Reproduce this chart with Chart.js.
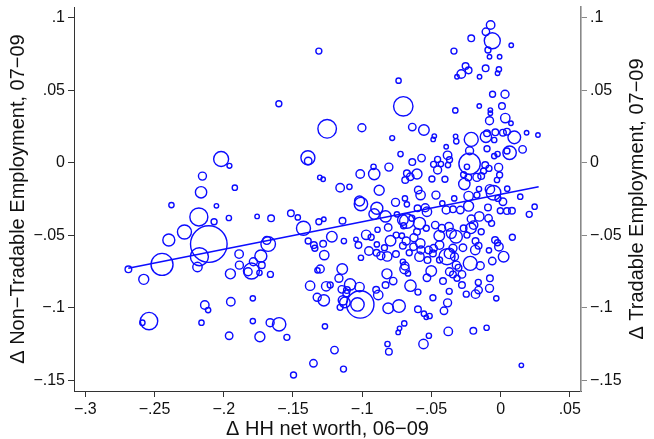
<!DOCTYPE html>
<html><head><meta charset="utf-8">
<script src="https://cdn.jsdelivr.net/npm/chart.js@4/dist/chart.umd.min.js"></script>
<style>html,body{margin:0;padding:0;background:#fff}canvas{display:block}</style>
</head><body>
<canvas id="c" width="654" height="439"></canvas>
<script>
const xTicks = [-0.3, -0.25, -0.2, -0.15, -0.1, -0.05, 0, 0.05];
const yTicks = [-0.15, -0.1, -0.05, 0, 0.05, 0.1];
const xTitle = 'Δ HH net worth, 06−09';
const yLeftTitle = 'Δ Non−Tradable Employment, 07−09';
const yRightTitle = 'Δ Tradable Employment, 07−09';

// Δ HH net worth (x)
const netWorth = [
-0.2019,-0.1959,-0.2154,-0.1920,-0.2164,-0.1313,-0.0737,-0.1602,-0.0703,-0.1253,
-0.1002,-0.0638,-0.0783,-0.1392,-0.1390,-0.0723,-0.0638,-0.0918,-0.0807,-0.1014,
-0.0913,-0.0677,-0.0689,-0.0653,-0.1306,-0.1282,-0.1159,-0.1092,-0.0877,
-0.0072,-0.0106,-0.0060,-0.0212,0.0077,-0.0337,-0.0091,-0.0080,-0.0007,-0.0253,
-0.0231,-0.0284,-0.0315,-0.0108,-0.0012,-0.0022,-0.0152,-0.0058,0.0032,-0.0154,
0.0010,-0.0327,-0.0074,-0.0074,0.0034,-0.0080,0.0075,-0.0554,-0.0479,-0.0487,
-0.0325,-0.0320,-0.0212,-0.0106,-0.0098,-0.0038,0.0017,0.0046,0.0099,0.0188,
0.0270,-0.0046,-0.0393,-0.0098,-0.0224,0.0065,0.0046,0.0159,-0.0046,-0.0022,
-0.0571,-0.0383,-0.0455,-0.0484,-0.0431,-0.0369,-0.0380,-0.0224,-0.0243,-0.0111,
-0.0014,-0.0455,-0.0604,-0.0496,-0.0402,-0.0267,-0.0233,-0.0171,-0.0140,-0.0123,
-0.0084,-0.0007,-0.0026,-0.0262,-0.0077,-0.0051,-0.0156,0.0048,-0.0595,-0.0578,
-0.0467,-0.0335,-0.0231,-0.0171,0.0142,
-0.2378,-0.2053,-0.2180,-0.1963,-0.2070,-0.2284,-0.2397,-0.2108,-0.2176,-0.2446,
-0.2689,-0.2190,-0.1889,-0.1887,-0.1952,-0.2578,-0.2137,-0.2113,-0.1949,-0.2540,
-0.2588,-0.2161,-0.1961,
-0.1019,-0.1009,-0.0894,-0.0913,-0.0831,-0.0759,-0.0691,-0.0677,-0.0600,-0.0749,
-0.0706,-0.0677,-0.0701,-0.0812,-0.0889,-0.1515,-0.1465,-0.1759,-0.1658,-0.1424,
-0.1313,-0.1277,-0.1142,-0.1679,-0.1689,-0.1732,-0.1800,-0.1786,-0.1824,-0.1725,
-0.1742,-0.1663,-0.1790,-0.1390,-0.1349,-0.1342,-0.1282,-0.1274,-0.1219,-0.1132,
-0.1045,-0.1027,-0.0971,-0.0935,-0.1009,-0.0951,-0.0894,-0.0896,-0.0865,-0.0839,
-0.0795,-0.0819,-0.0756,-0.0754,-0.0713,-0.0682,-0.0706,-0.0626,-0.0660,-0.0706,
-0.0691,-0.0694,-0.0669,-0.1303,-0.1323,-0.1144,-0.1168,-0.1376,-0.1260,-0.1231,
-0.1087,-0.1019,-0.1147,-0.1110,-0.1115,-0.1325,-0.1277,-0.1139,-0.1125,-0.1159,
-0.1014,-0.1034,-0.0899,-0.0884,-0.0831,-0.0776,-0.0821,-0.0651,-0.0812,-0.0734,
-0.0597,-0.0696,-0.0730,-0.0740,-0.0817,-0.0807,-0.1790,-0.1665,-0.1600,-0.1739,
-0.1544,-0.1269,-0.1200,-0.1352,-0.1135,-0.1496,
-0.0019,0.0017,0.0246,0.0207,0.0082,0.0046,-0.0002,-0.0091,-0.0087,-0.0065,
-0.0154,-0.0212,-0.0231,-0.0291,-0.0344,-0.0393,-0.0421,-0.0532,-0.0586,-0.0641,
-0.0604,-0.0537,-0.0472,-0.0424,-0.0443,-0.0373,-0.0356,-0.0322,-0.0267,-0.0214,
-0.0243,-0.0195,-0.0140,-0.0181,-0.0040,-0.0022,0.0085,-0.0084,-0.0012,0.0022,
-0.0060,-0.0159,-0.0183,-0.0272,-0.0344,-0.0369,-0.0387,-0.0333,-0.0441,-0.0484,
-0.0489,-0.0580,-0.0575,-0.0629,-0.0586,-0.0520,-0.0528,-0.0441,-0.0219,-0.0147,
-0.0320,-0.0304,-0.0369,-0.0279,-0.0344,-0.0501,-0.0532,-0.0416,-0.0315,-0.0279,
-0.0161,-0.0077,-0.0080,-0.0159,-0.0181,-0.0248,-0.0371,-0.0031,-0.0489,-0.0597,
-0.0383,-0.0409,-0.0554,-0.0537,-0.0513,-0.0378,-0.0197,-0.0101,-0.0518,-0.0557,
0.0150,-0.0544
];

// Δ Non-Tradable Employment (y)
const nonTradable = [
0.0026,-0.0021,-0.0092,-0.0172,-0.0204,0.0770,0.0566,0.0407,0.0389,0.0234,
0.0241,0.0246,0.0170,0.0034,0.0012,0.0060,0.0005,-0.0028,-0.0030,-0.0078,
-0.0078,-0.0073,-0.0119,-0.0097,-0.0101,-0.0114,-0.0172,-0.0166,-0.0190,
0.0950,0.0903,0.0841,0.0858,0.0810,0.0770,0.0777,0.0731,0.0731,0.0667,
0.0637,0.0612,0.0593,0.0651,0.0644,0.0617,0.0593,0.0472,0.0472,0.0391,
0.0391,0.0361,0.0363,0.0341,0.0308,0.0290,0.0272,0.0226,0.0184,0.0161,
0.0182,0.0148,0.0161,0.0179,0.0203,0.0210,0.0207,0.0214,0.0175,0.0207,
0.0191,0.0157,0.0110,0.0097,0.0083,0.0069,0.0081,0.0092,0.0046,0.0060,
0.0032,0.0051,0.0023,-0.0011,-0.0009,0.0021,-0.0016,-0.0007,-0.0028,-0.0016,
-0.0032,-0.0050,-0.0078,-0.0112,-0.0114,-0.0083,-0.0101,-0.0101,-0.0092,-0.0057,
-0.0039,-0.0085,-0.0119,-0.0147,-0.0183,-0.0207,-0.0181,-0.0179,-0.0188,-0.0223,
-0.0223,-0.0246,-0.0230,-0.0223,-0.0234,
-0.0292,-0.0297,-0.0374,-0.0381,-0.0407,-0.0478,-0.0533,-0.0561,-0.0648,-0.0701,
-0.0735,-0.0719,-0.0630,-0.0706,-0.0766,-0.0804,-0.0981,-0.1016,-0.0959,-0.1092,
-0.1103,-0.1103,-0.1193,
-0.0264,-0.0285,-0.0314,-0.0354,-0.0370,-0.0273,-0.0246,-0.0287,-0.0314,-0.0356,
-0.0395,-0.0402,-0.0434,-0.0446,-0.0462,-0.0349,-0.0377,-0.0370,-0.0383,-0.0452,
-0.0407,-0.0390,-0.0400,-0.0561,-0.0535,-0.0643,-0.0747,-0.0683,-0.0752,-0.0706,
-0.0759,-0.0770,-0.0935,-0.0540,-0.0568,-0.0590,-0.0559,-0.0637,-0.0510,-0.0540,
-0.0528,-0.0568,-0.0497,-0.0514,-0.0655,-0.0609,-0.0563,-0.0621,-0.0641,-0.0586,
-0.0538,-0.0646,-0.0630,-0.0499,-0.0503,-0.0540,-0.0572,-0.0517,-0.0621,-0.0683,
-0.0712,-0.0733,-0.0763,-0.0733,-0.0742,-0.0733,-0.0797,-0.0848,-0.0852,-0.0843,
-0.0839,-0.0857,-0.0873,-0.0878,-0.0901,-0.0928,-0.0949,-0.0949,-0.0963,-0.0997,
-0.0977,-0.0977,-0.0876,-0.0912,-0.0843,-0.0816,-0.0766,-0.0848,-0.1004,-0.0988,
-0.1011,-0.1108,-0.1142,-0.1170,-0.1250,-0.1303,-0.1092,-0.1103,-0.1114,-0.1200,
-0.1204,-0.1128,-0.1292,-0.1383,-0.1423,-0.1464,
-0.0246,-0.0269,-0.0303,-0.0356,-0.0331,-0.0333,-0.0331,-0.0308,-0.0383,-0.0418,
-0.0370,-0.0388,-0.0299,-0.0326,-0.0321,-0.0326,-0.0280,-0.0338,-0.0418,-0.0383,
-0.0476,-0.0452,-0.0430,-0.0452,-0.0503,-0.0441,-0.0487,-0.0510,-0.0452,-0.0452,
-0.0499,-0.0430,-0.0476,-0.0540,-0.0533,-0.0552,-0.0514,-0.0604,-0.0579,-0.0648,
-0.0678,-0.0572,-0.0602,-0.0586,-0.0590,-0.0625,-0.0648,-0.0648,-0.0568,-0.0590,
-0.0625,-0.0556,-0.0602,-0.0579,-0.0648,-0.0602,-0.0671,-0.0671,-0.0694,-0.0710,
-0.0706,-0.0724,-0.0752,-0.0770,-0.0770,-0.0747,-0.0793,-0.0816,-0.0797,-0.0843,
-0.0825,-0.0797,-0.0866,-0.0878,-0.0906,-0.0906,-0.0887,-0.0935,-0.0931,-0.0892,
-0.0966,-0.1021,-0.1041,-0.1066,-0.1057,-0.1163,-0.1159,-0.1138,-0.1193,-0.1250,
-0.1397,-0.0310
];

// marker weights (area of the circle)
const weights = [
56,6,16,7,32,9,7,9,94,86,
16,14,6,49,14,7,11,7,16,18,
32,11,11,14,5,5,18,7,25,
18,14,64,11,5,9,9,5,5,11,
11,18,5,11,7,5,5,9,16,5,
11,7,5,5,22,16,5,28,5,5,
5,7,49,32,11,11,11,11,40,5,
5,7,5,9,16,45,9,14,7,7,
14,18,9,9,7,9,7,114,7,11,
16,16,25,9,9,9,11,16,11,9,
9,9,7,32,22,53,7,7,14,22,
16,7,22,9,7,
7,5,81,7,9,49,36,335,81,121,
11,22,18,16,25,25,18,7,18,76,
7,7,14,
25,45,36,28,32,16,7,7,11,7,
28,53,9,14,7,11,7,5,11,49,
9,5,11,53,16,36,64,16,16,11,
7,9,7,9,11,9,11,22,28,7,
5,11,22,9,7,18,7,11,16,9,
28,22,11,9,7,16,11,16,9,7,
16,22,7,16,7,28,16,22,22,9,
32,22,14,11,11,16,32,22,28,9,
188,45,11,22,11,14,25,32,28,40,
11,7,5,5,7,11,7,16,45,25,
9,7,14,14,9,9,
9,14,7,9,11,11,9,11,14,9,
22,16,25,14,11,16,7,22,36,9,
11,9,14,14,28,18,25,40,11,28,
9,18,9,11,11,9,9,7,18,28,
14,11,22,14,16,28,64,16,18,14,
11,22,16,14,22,14,11,9,49,16,
16,11,16,14,11,28,14,11,9,11,
9,11,16,14,18,9,9,7,9,9,
16,14,7,5,7,18,11,7,7,22,
5,16
];

// fitted line end points
const fitX = [-0.269, 0.0275];
const fitY = [-0.0728, -0.0166];

const BLUE = '#0c0cff';
const FONT = '"Liberation Sans", Arial, Helvetica, sans-serif';

function fmt(v) {
  if (Math.abs(v) < 1e-9) return '0';
  const s = Math.abs(v).toFixed(2).replace(/0+$/, '').replace(/^0/, '');
  return (v < 0 ? '\u2212' : '') + s;
}

const n = Math.min(netWorth.length, nonTradable.length, weights.length);
const bubbles = [];
for (let i = 0; i < n; i++) bubbles.push({x: netWorth[i], y: nonTradable[i], r: Math.sqrt(weights[i])});
const fitLine = fitX.map((x, i) => ({x: x, y: fitY[i]}));

const rightTitle = {
  id: 'rightTitle',
  afterDraw(chart) {
    const ctx = chart.ctx, s = chart.scales.y2, a = chart.chartArea;
    ctx.save();
    ctx.font = '20px ' + FONT;
    ctx.fillStyle = '#111';
    ctx.textAlign = 'center';
    ctx.textBaseline = 'middle';
    ctx.translate(s.right - 5 - 12, (a.top + a.bottom) / 2);
    ctx.rotate(-Math.PI / 2);
    ctx.fillText(yRightTitle, 0, 0);
    ctx.restore();
  }
};

const yMin = -0.1574, yMax = 0.1074;
const tickFont = {family: FONT, size: 16};

function fitVertical(w) {
  return s => { s.width = w; s.paddingTop = 0; s.paddingBottom = 0; };
}

new Chart(document.getElementById('c'), {
  type: 'bubble',
  data: {
    datasets: [
      {type: 'line', data: fitLine, borderColor: BLUE, borderWidth: 1.6, pointRadius: 0, fill: false, order: 0, tension: 0},
      {type: 'bubble', data: bubbles, backgroundColor: 'rgba(0,0,0,0)', borderColor: BLUE, borderWidth: 1.4, order: 1}
    ]
  },
  options: {
    responsive: false,
    animation: false,
    devicePixelRatio: 1,
    events: [],
    layout: {autoPadding: false, padding: {top: 7, left: 0, right: 0, bottom: 0}},
    plugins: {legend: {display: false}, tooltip: {enabled: false}},
    scales: {
      x: {
        type: 'linear', min: -0.3082, max: 0.0581,
        afterBuildTicks: s => { s.ticks = xTicks.map(v => ({value: v})); },
        afterFit: s => { s.height = 48; s.paddingLeft = 0; s.paddingRight = 0; },
        ticks: {callback: v => fmt(v), font: tickFont, color: '#111', padding: 3, maxRotation: 0, autoSkip: false},
        grid: {drawOnChartArea: false, drawTicks: true, tickLength: 6, color: '#333', lineWidth: 1},
        border: {display: true, color: '#333', width: 1},
        title: {display: true, text: xTitle, font: {family: FONT, size: 20, lineHeight: 1}, color: '#111', padding: {top: 0, bottom: 0}}
      },
      y: {
        type: 'linear', position: 'left', min: yMin, max: yMax,
        afterBuildTicks: s => { s.ticks = yTicks.map(v => ({value: v})); },
        afterFit: fitVertical(74),
        ticks: {callback: v => fmt(v), font: tickFont, color: '#111', padding: 3, autoSkip: false},
        grid: {drawOnChartArea: false, drawTicks: true, tickLength: 6, color: '#333', lineWidth: 1},
        border: {display: true, color: '#333', width: 1},
        title: {display: true, text: yLeftTitle, font: {family: FONT, size: 20}, color: '#111', padding: {top: 6, bottom: 0}}
      },
      y2: {
        type: 'linear', position: 'right', min: yMin, max: yMax,
        afterBuildTicks: s => { s.ticks = yTicks.map(v => ({value: v})); },
        afterFit: fitVertical(73),
        ticks: {callback: v => fmt(v), font: tickFont, color: '#111', padding: 3, autoSkip: false},
        grid: {drawOnChartArea: false, drawTicks: true, tickLength: 6, color: '#888', lineWidth: 1},
        border: {display: true, color: '#888', width: 1.6},
        title: {display: false}
      }
    }
  },
  plugins: [rightTitle]
});
</script>
</body></html>
